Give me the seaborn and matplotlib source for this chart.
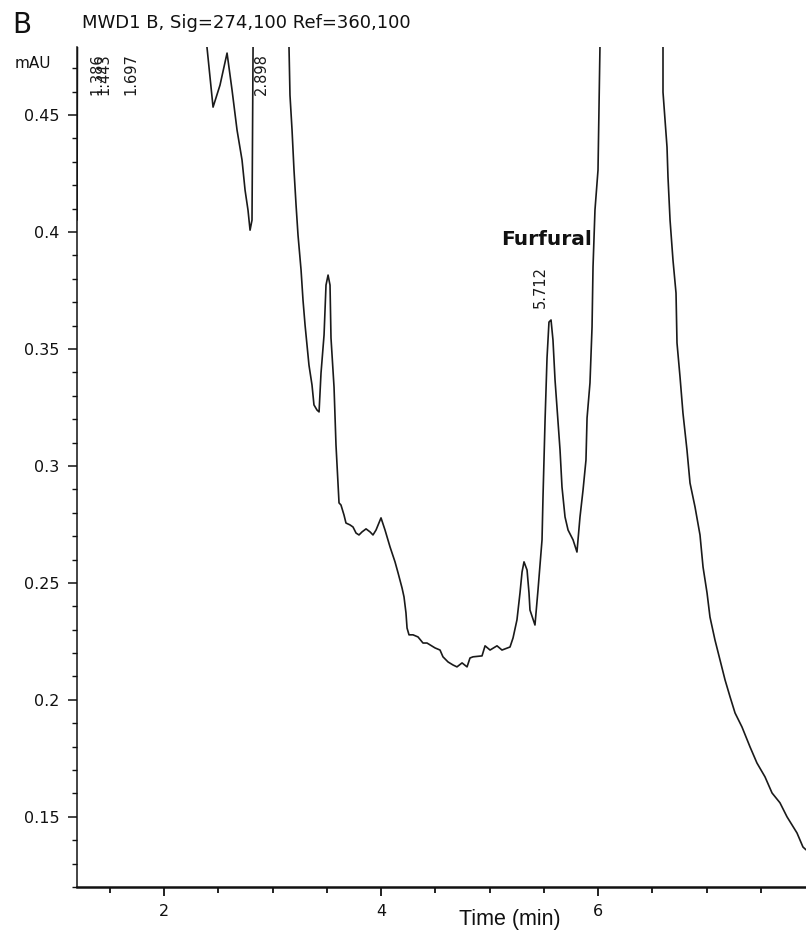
import numpy as np
import pandas as pd
import matplotlib
matplotlib.use("Agg")
import matplotlib.pyplot as plt
from matplotlib.ticker import MultipleLocator, FixedLocator
from matplotlib import font_manager
import seaborn as sns

# ---- data ----
time_min = [1.198, 1.21, 1.40, 1.70, 2.00, 2.30, 2.396, 2.452, 2.516, 2.581,
            2.627, 2.673, 2.719, 2.747, 2.774, 2.793, 2.811, 2.820, 2.84, 2.90,
            3.05, 3.152, 3.161, 3.180, 3.198, 3.217, 3.235, 3.263, 3.281, 3.300,
            3.318, 3.336, 3.364, 3.382, 3.410, 3.429, 3.447, 3.475, 3.493, 3.512,
            3.530, 3.539, 3.567, 3.585, 3.604, 3.613, 3.631, 3.659, 3.677, 3.714,
            3.742, 3.770, 3.797, 3.825, 3.862, 3.899, 3.926, 3.954, 4.000, 4.037,
            4.083, 4.129, 4.157, 4.194, 4.212, 4.230, 4.240, 4.258, 4.295, 4.341,
            4.387, 4.424, 4.452, 4.498, 4.544, 4.571, 4.618, 4.664, 4.700, 4.747,
            4.793, 4.820, 4.848, 4.931, 4.959, 5.005, 5.069, 5.115, 5.189, 5.217,
            5.253, 5.281, 5.300, 5.318, 5.346, 5.364, 5.373, 5.419, 5.447, 5.484,
            5.493, 5.512, 5.530, 5.548, 5.567, 5.585, 5.604, 5.631, 5.650, 5.668,
            5.696, 5.724, 5.770, 5.806, 5.834, 5.862, 5.889, 5.899, 5.926, 5.945,
            5.954, 5.972, 6.000, 6.018, 6.05, 6.30, 6.55, 6.599, 6.599, 6.636,
            6.645, 6.664, 6.691, 6.719, 6.728, 6.756, 6.783, 6.820, 6.848, 6.894,
            6.940, 6.968, 7.005, 7.032, 7.078, 7.124, 7.171, 7.217, 7.263, 7.327,
            7.401, 7.465, 7.539, 7.604, 7.677, 7.742, 7.834, 7.889, 7.917]
absorbance_mau = [0.4051, 0.62, 0.75, 0.70, 0.60, 0.52, 0.479, 0.4534, 0.4628, 0.4765,
                  0.4607, 0.4436, 0.4308, 0.4179, 0.4094, 0.4008, 0.4051, 0.479, 0.60, 1.20,
                  1.00, 0.479, 0.4585, 0.4436, 0.4265, 0.4115, 0.3987, 0.3838, 0.3709, 0.3602,
                  0.3517, 0.3431, 0.3346, 0.3261, 0.3239, 0.3231, 0.3397, 0.3560, 0.3773, 0.3816,
                  0.3773, 0.3547, 0.3337, 0.3090, 0.2919, 0.2842, 0.2833, 0.2790, 0.2756, 0.2748,
                  0.2739, 0.2713, 0.2705, 0.2718, 0.2731, 0.2718, 0.2705, 0.2726, 0.2778, 0.2726,
                  0.2654, 0.2590, 0.2543, 0.2478, 0.2440, 0.2372, 0.2307, 0.2278, 0.2278, 0.2269,
                  0.2243, 0.2243, 0.2235, 0.2222, 0.2213, 0.2184, 0.2162, 0.2149, 0.2141, 0.2158,
                  0.2141, 0.2179, 0.2184, 0.2188, 0.2231, 0.2213, 0.2231, 0.2213, 0.2226, 0.2265,
                  0.2342, 0.2457, 0.2547, 0.2590, 0.2555, 0.2457, 0.2384, 0.2320, 0.2470, 0.2684,
                  0.2867, 0.3196, 0.3461, 0.3615, 0.3624, 0.3538, 0.3367, 0.3188, 0.3068, 0.2910,
                  0.2782, 0.2726, 0.2684, 0.2632, 0.2782, 0.2897, 0.3025, 0.3205, 0.3355, 0.3594,
                  0.3850, 0.4094, 0.4265, 0.4791, 0.70, 1.50, 0.70, 0.479, 0.4598, 0.4363,
                  0.4235, 0.4051, 0.3880, 0.3739, 0.3526, 0.3380, 0.3226, 0.3068, 0.2927, 0.2825,
                  0.2705, 0.2568, 0.2457, 0.2354, 0.2256, 0.2171, 0.2085, 0.2013, 0.1944, 0.1884,
                  0.1799, 0.1730, 0.1671, 0.1602, 0.1560, 0.1500, 0.1431, 0.1371, 0.1359]

peak_labels = ["1.386", "1.443", "1.697", "2.898"]
peak_label_x = [1.386, 1.443, 1.697, 2.898]
main_peak_label = "5.712"
main_peak_label_x = 5.465
compound_name = "Furfural"

y_ticks = [0.15, 0.2, 0.25, 0.3, 0.35, 0.4, 0.45]
y_tick_labels = ["0.15", "0.2", "0.25", "0.3", "0.35", "0.4", "0.45"]
x_ticks = [2, 4, 6]
x_tick_labels = ["2", "4", "6"]

title_text = "MWD1 B, Sig=274,100 Ref=360,100"
panel_letter = "B"
y_unit = "mAU"
x_label = "Time (min)"

df = pd.DataFrame({"time": time_min, "mAU": absorbance_mau})

# ---- style ----
sns.set_style("ticks")
plt.rcParams["font.family"] = ["DejaVu Sans"]

W, H = 806, 935
fig = plt.figure(figsize=(W / 100, H / 100), dpi=100)
ax = fig.add_axes([77 / W, 1 - 887 / H, 1 - 77 / W, (887 - 47) / H])

sns.lineplot(data=df, x="time", y="mAU", ax=ax, sort=False, estimator=None,
             color="#1a1a1a", linewidth=1.2)

ax.set_xlim(1.198, 7.917)
ax.set_ylim(0.1200, 0.4791)

for s in ["top", "right"]:
    ax.spines[s].set_visible(False)
ax.spines["left"].set_linewidth(1.1)
ax.spines["left"].set_color("#111111")
ax.spines["bottom"].set_linewidth(1.8)
ax.spines["bottom"].set_color("#111111")

ax.yaxis.set_major_locator(FixedLocator(y_ticks))
ax.set_yticklabels(y_tick_labels)
ax.yaxis.set_minor_locator(MultipleLocator(0.01))
ax.xaxis.set_major_locator(FixedLocator(x_ticks))
ax.set_xticklabels(x_tick_labels)
ax.xaxis.set_minor_locator(MultipleLocator(0.5))

ax.tick_params(axis="y", which="major", length=6.5, width=1.1, pad=6, labelsize=11.5,
               color="#111111", labelcolor="#111111")
ax.tick_params(axis="y", which="minor", length=3.5, width=1.0, color="#111111")
ax.tick_params(axis="x", which="major", length=6.5, width=1.3, pad=6, labelsize=11.5,
               color="#111111", labelcolor="#111111")
ax.tick_params(axis="x", which="minor", length=4.5, width=1.3, color="#111111")
ax.set_xlabel("")
ax.set_ylabel("")

# peak retention-time labels
for lab, xp in zip(peak_labels, peak_label_x):
    ax.text(xp, 0.4765, lab, rotation=90, ha="center", va="top", fontsize=10.5,
            color="#1a1a1a")
ax.text(main_peak_label_x, 0.3675, main_peak_label, rotation=90, ha="center",
        va="bottom", fontsize=10.5, color="#1a1a1a")
ax.text(5.525, 0.3945, compound_name, ha="center", va="baseline", fontsize=14.5,
        fontweight="bold", color="#111111")

# figure texts
fig.text(12 / W, 1 - 33 / H, panel_letter, fontsize=20, ha="left", va="baseline", color="#111111")
fig.text(82 / W, 1 - 28 / H, title_text, fontsize=13, ha="left", va="baseline", color="#111111")
fig.text(15 / W, 1 - 68 / H, y_unit, fontsize=11, ha="left", va="baseline", color="#111111")

names = {f.name for f in font_manager.fontManager.ttflist}
if "Liberation Sans Narrow" in names:
    fig.text(510 / W, 1 - 920 / H, x_label, fontsize=18, ha="center", va="center",
             family=["Liberation Sans Narrow", "DejaVu Sans"], color="#111111")
else:
    fig.text(510 / W, 1 - 920 / H, x_label, fontsize=15.5, ha="center", va="center",
             family=["Liberation Sans", "DejaVu Sans"], color="#111111")

fig.savefig("out.png", dpi=100)
